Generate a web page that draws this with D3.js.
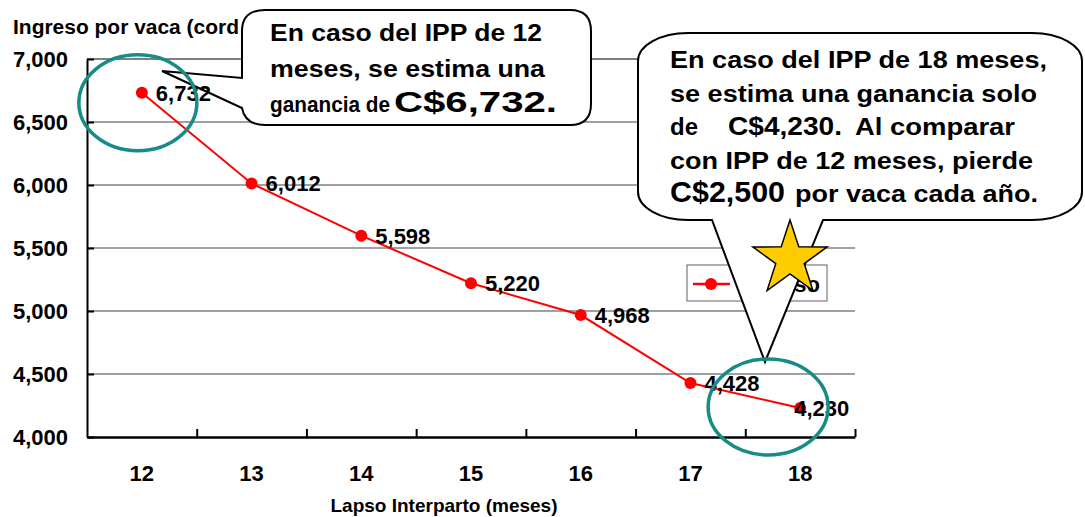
<!DOCTYPE html>
<html>
<head>
<meta charset="utf-8">
<script src="https://cdn.jsdelivr.net/npm/d3@7"></script>
<style>
  html, body { margin: 0; padding: 0; background: #fff; }
  svg { display: block; }
  text { font-family: "Liberation Sans", Arial, sans-serif; font-weight: bold; fill: #000; }
</style>
</head>
<body>
<svg id="chart" width="1085" height="517"></svg>
<script>
// ---- data ----
const categories = ["12", "13", "14", "15", "16", "17", "18"];
const values = [6732, 6012, 5598, 5220, 4968, 4428, 4230];
const yTicks = [4000, 4500, 5000, 5500, 6000, 6500, 7000];
const seriesName = "Ingreso";
const yTitle = "Ingreso por vaca (cord";   // visible part; the rest is hidden behind the callout
const xTitle = "Lapso Interparto (meses)";

(function () {
// ---- layout ----
const svg = d3.select("#chart");
const pLeft = 87, pRight = 855, pTop = 59, pBottom = 437;
const x = d3.scaleBand().domain(categories).range([pLeft, pRight]).padding(0);
const xb = d3.scaleLinear().domain([0, categories.length]).range([pLeft, pRight]);
const y = d3.scaleLinear().domain([4000, 7000]).range([pBottom, pTop]);
const cx = d => x(d) + x.bandwidth() / 2;

// gridlines
svg.append("g").selectAll("line").data(yTicks.filter(t => t > 4000)).join("line")
  .attr("x1", pLeft).attr("x2", pRight)
  .attr("y1", d => y(d)).attr("y2", d => y(d))
  .attr("stroke", d => d === 7000 ? "#000" : "#808080")
  .attr("stroke-width", d => d === 7000 ? 1 : 1.5);

// y axis
const yAxis = svg.append("g").attr("transform", `translate(${pLeft},0)`)
  .call(d3.axisLeft(y).tickValues(yTicks).tickFormat(d3.format(",")).tickSizeInner(-7).tickSizeOuter(0).tickPadding(19));
yAxis.select(".domain").attr("stroke", "#000").attr("stroke-width", 2);
yAxis.selectAll(".tick line").attr("stroke", "#000").attr("stroke-width", 2);
yAxis.selectAll(".tick text").style("font-size", "22px").style("font-family", "Liberation Sans, Arial, sans-serif").style("font-weight", "bold").attr("fill", "#000");

// x axis labels (centered in bands)
const xAxis = svg.append("g").attr("transform", `translate(0,${pBottom})`)
  .call(d3.axisBottom(x).tickSize(0).tickPadding(28));
xAxis.select(".domain").remove();
xAxis.selectAll(".tick text").style("font-size", "22px").style("font-family", "Liberation Sans, Arial, sans-serif").style("font-weight", "bold").attr("fill", "#000");

// x axis line + boundary ticks
const xTickAxis = svg.append("g").attr("transform", `translate(0,${pBottom})`)
  .call(d3.axisBottom(xb).tickValues(d3.range(1, categories.length + 1)).tickFormat("").tickSizeInner(-8).tickSizeOuter(0));
xTickAxis.select(".domain").attr("stroke", "#000").attr("stroke-width", 2.5);
xTickAxis.selectAll(".tick line").attr("stroke", "#000").attr("stroke-width", 2);

// axis titles
svg.append("text").attr("x", 13).attr("y", 34).style("font-size", "20px")
  .attr("textLength", 226).attr("lengthAdjust", "spacingAndGlyphs").text(yTitle);
svg.append("text").attr("x", 444).attr("y", 512).attr("text-anchor", "middle").style("font-size", "19px").text(xTitle);

// series
const pts = categories.map((c, i) => ({ c, v: values[i] }));
svg.append("path").datum(pts)
  .attr("fill", "none").attr("stroke", "#ff0000").attr("stroke-width", 2)
  .attr("d", d3.line().x(d => cx(d.c)).y(d => y(d.v)));
svg.append("g").selectAll("circle").data(pts).join("circle")
  .attr("cx", d => cx(d.c)).attr("cy", d => y(d.v)).attr("r", 6).attr("fill", "#ff0000");

// legend
const lg = svg.append("g");
lg.append("rect").attr("x", 687).attr("y", 265).attr("width", 140).attr("height", 36)
  .attr("fill", "#fff").attr("stroke", "#606060").attr("stroke-width", 1);
lg.append("line").attr("x1", 693).attr("x2", 730).attr("y1", 284).attr("y2", 284).attr("stroke", "#ff0000").attr("stroke-width", 2.5);
lg.append("circle").attr("cx", 711).attr("cy", 284).attr("r", 6).attr("fill", "#ff0000");
lg.append("text").attr("x", 820).attr("y", 292).attr("text-anchor", "end").style("font-size", "22px").text(seriesName);

// callouts
const calloutStyle = sel => sel.attr("fill", "#fff").attr("stroke", "#000").attr("stroke-width", 2);
svg.append("path").call(calloutStyle)
  .attr("d", "M 265,10 H 570 Q 591,10 591,31 V 104 Q 591,125 570,125 H 265 Q 245,125 242,108 L 162,71 L 242,78 V 31 Q 242,10 265,10 Z");
svg.append("path").call(calloutStyle)
  .attr("d", "M 688,33 H 1032 A 50 28 0 0 1 1082 61 V 192 A 50 28 0 0 1 1032 220 H 823 L 765 362 L 712 220 H 688 A 50 28 0 0 1 638 192 V 61 A 50 28 0 0 1 688 33 Z");

function ctext(str, xx, yy, size, len) {
  const t = svg.append("text").attr("x", xx).attr("y", yy).style("font-size", size + "px").text(str);
  if (len) t.attr("textLength", len).attr("lengthAdjust", "spacingAndGlyphs");
  return t;
}
ctext("En caso del IPP de 12", 270, 41, 23, 272);
ctext("meses, se estima una", 270, 76.5, 23, 275);
ctext("ganancia de", 270, 112, 22, 120);
ctext("C$6,732.", 394, 112, 29, 163);

ctext("En caso del IPP de 18 meses,", 670, 68, 23, 377);
ctext("se estima una ganancia solo", 670, 101.5, 23, 367);
ctext("de", 670, 135, 23, 28);
ctext("C$4,230.", 728, 135, 26, 114);
ctext("Al comparar", 855, 135, 23, 160);
ctext("con IPP de 12 meses, pierde", 670, 168.5, 23, 363);
ctext("C$2,500", 670, 202, 30, 115);
ctext("por vaca cada año.", 795, 202, 23, 243);

// data labels
svg.append("g").selectAll("text").data(pts).join("text")
  .attr("x", (d, i) => cx(d.c) + (i === pts.length - 1 ? -6 : 14))
  .attr("y", d => y(d.v)).attr("dy", "0.36em")
  .style("font-size", "22px")
  .text(d => d3.format(",")(d.v));

// highlight ellipses
const first = pts[0], last = pts[pts.length - 1];
svg.append("ellipse").attr("cx", cx(first.c) - 4).attr("cy", y(first.v) + 10).attr("rx", 59).attr("ry", 48)
  .attr("fill", "none").attr("stroke", "#178c87").attr("stroke-width", 3.5);
svg.append("ellipse").attr("cx", cx(last.c) - 32).attr("cy", y(last.v) - 1).attr("rx", 60).attr("ry", 48)
  .attr("fill", "none").attr("stroke", "#178c87").attr("stroke-width", 3.5);

// star
const sx = 790, sy = 259, R = 39, r = 15;
const starPts = d3.range(10).map(k => {
  const a = -Math.PI / 2 + k * Math.PI / 5;
  const rad = k % 2 === 0 ? R : r;
  return [sx + rad * Math.cos(a), sy + rad * Math.sin(a)];
});
svg.append("path").attr("d", "M" + starPts.map(p => p.join(",")).join("L") + "Z")
  .attr("fill", "#ffcc00").attr("stroke", "#000").attr("stroke-width", 1.5).attr("stroke-linejoin", "miter");
})();
</script>
</body>
</html>
